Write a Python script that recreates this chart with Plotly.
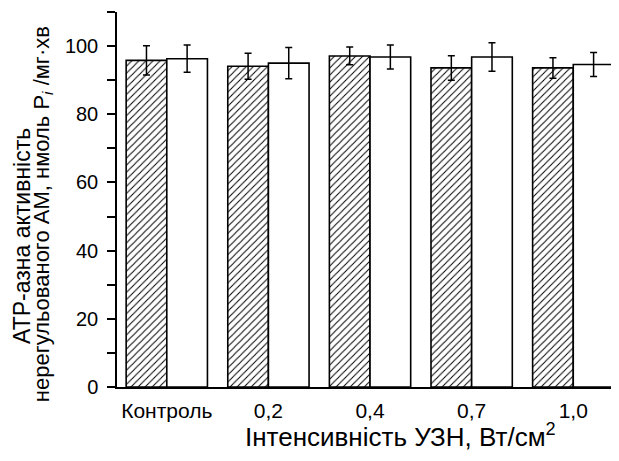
import plotly.graph_objects as go

categories = ["Контроль", "0,2", "0,4", "0,7", "1,0"]
hatched_vals = [95.8, 94.1, 97.1, 93.6, 93.6]
hatched_err = [4.3, 3.8, 2.6, 3.6, 3.0]
white_vals = [96.3, 95.0, 96.8, 96.8, 94.6]
white_err = [4.0, 4.6, 3.5, 4.2, 3.5]

x_title = "Інтенсивність УЗН, Вт/см<sup>2</sup>"
y_title_1 = "АТР-азна активність"
y_title_2 = "нерегульованого АМ, нмоль P<sub><i>i</i></sub> /мг·хв"

font_family = "Liberation Sans, Arial, sans-serif"

fig = go.Figure()
fig.add_trace(go.Bar(
    x=categories, y=hatched_vals,
    marker=dict(color="white", line=dict(color="black", width=1.6),
                pattern=dict(shape="/", size=5, solidity=0.2, fgcolor="black", bgcolor="white")),
    error_y=dict(type="data", array=hatched_err, color="black", thickness=1.5, width=3.5),
    showlegend=False,
))
fig.add_trace(go.Bar(
    x=categories, y=white_vals,
    marker=dict(color="white", line=dict(color="black", width=1.6)),
    error_y=dict(type="data", array=white_err, color="black", thickness=1.5, width=3.5),
    showlegend=False,
))

fig.update_layout(
    template="none",
    width=619, height=461,
    margin=dict(l=109, r=8, t=4, b=82, autoexpand=False),
    paper_bgcolor="white", plot_bgcolor="white",
    barmode="group", bargap=0.2, bargroupgap=0,
    font=dict(family=font_family, size=21, color="black"),
    xaxis=dict(
        type="category",
        range=[-0.49, 4.45], showline=True, linecolor="black", linewidth=1.5,
        ticks="", showgrid=False, zeroline=False, automargin=False,
        tickfont=dict(size=21), ticklabelstandoff=4,
    ),
    yaxis=dict(
        range=[0, 110], showline=True, linecolor="black", linewidth=1.5,
        ticks="outside", ticklen=8, tickwidth=1.5, tickcolor="black",
        tickvals=[0, 20, 40, 60, 80, 100], automargin=False,
        minor=dict(ticks="outside", dtick=10, ticklen=8, tickwidth=1.5, tickcolor="black", showgrid=False),
        showgrid=False, zeroline=False, tickfont=dict(size=20), ticklabelstandoff=5,
    ),
    annotations=[
        dict(text=x_title, xref="paper", yref="paper", x=0.564, y=0, yshift=-48,
             xanchor="center", yanchor="middle", showarrow=False, font=dict(size=26)),
        dict(text=y_title_1, xref="paper", yref="paper", x=0, y=0.403, xshift=-95,
             xanchor="center", yanchor="middle", textangle=-90, showarrow=False, font=dict(size=23)),
        dict(text=y_title_2, xref="paper", yref="paper", x=0, y=0.461, xshift=-74,
             xanchor="center", yanchor="middle", textangle=-90, showarrow=False, font=dict(size=22)),
    ],
)

fig.write_html("out.html")
